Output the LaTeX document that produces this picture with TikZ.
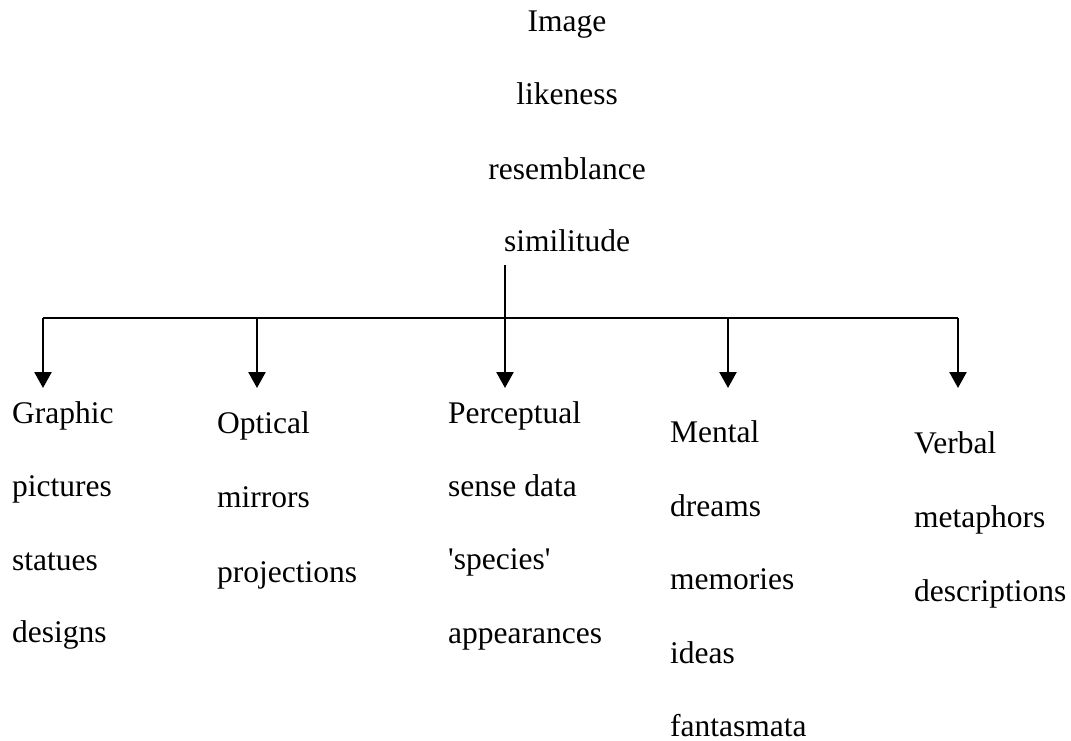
\documentclass[tikz,border=0pt]{standalone}
\usepackage{fontspec}
\setmainfont{Liberation Serif}[Ligatures=TeXOff]
\usetikzlibrary{arrows.meta}
\tikzset{
  lbl/.style={inner sep=0pt, anchor=base west, font=\fontsize{31.5}{36}\selectfont},
  toplbl/.style={inner sep=0pt, anchor=base, font=\fontsize{31.5}{36}\selectfont},
  bar/.style={line width=2.3pt},
  arr/.style={line width=2.5pt, -{Triangle[width=17pt,length=16pt]}}
}
\begin{document}
\begin{tikzpicture}[x=1pt,y=-1pt]
\useasboundingbox (0,0) rectangle (1071,741);
% top labels
\node[toplbl] (img) at (567,32) {Image};
\node[toplbl] (lik) at (567,105) {likeness};
\node[toplbl] (res) at (567,179) {resemblance};
\node[toplbl] (sim) at (567,251) {similitude};
% coordinates
\coordinate (stem) at (505,265);
\coordinate (b1) at (43,318);
\coordinate (b2) at (257,318);
\coordinate (b3) at (505,318);
\coordinate (b4) at (728,318);
\coordinate (b5) at (958,318);
\coordinate (t1) at (43,388);
\coordinate (t2) at (257,388);
\coordinate (t3) at (505,388);
\coordinate (t4) at (728,388);
\coordinate (t5) at (958,388);
% bar and arrows
\draw[bar] (b1) -- (b5);
\draw[arr] (stem) -- (t3);
\draw[arr] (b1) -- (t1);
\draw[arr] (b2) -- (t2);
\draw[arr] (b4) -- (t4);
\draw[arr] (b5) -- (t5);
% Graphic
\node[lbl] (g0) at (12,423) {Graphic};
\node[lbl] (g1) at (12,496) {pictures};
\node[lbl] (g2) at (12,570) {statues};
\node[lbl] (g3) at (12,642) {designs};
% Optical
\node[lbl] (o0) at (217,433) {Optical};
\node[lbl] (o1) at (217,507) {mirrors};
\node[lbl] (o2) at (217,582) {projections};
% Perceptual
\node[lbl] (p0) at (448,423) {Perceptual};
\node[lbl] (p1) at (448,496) {sense data};
\node[lbl] (p2) at (448,569) {'species'};
\node[lbl] (p3) at (448,643) {appearances};
% Mental
\node[lbl] (m0) at (670,442) {Mental};
\node[lbl] (m1) at (670,516) {dreams};
\node[lbl] (m2) at (670,589) {memories};
\node[lbl] (m3) at (670,663) {ideas};
\node[lbl] (m4) at (670,736) {fantasmata};
% Verbal
\node[lbl] (v0) at (914,453) {Verbal};
\node[lbl] (v1) at (914,527) {metaphors};
\node[lbl] (v2) at (914,601) {descriptions};
\end{tikzpicture}
\end{document}
